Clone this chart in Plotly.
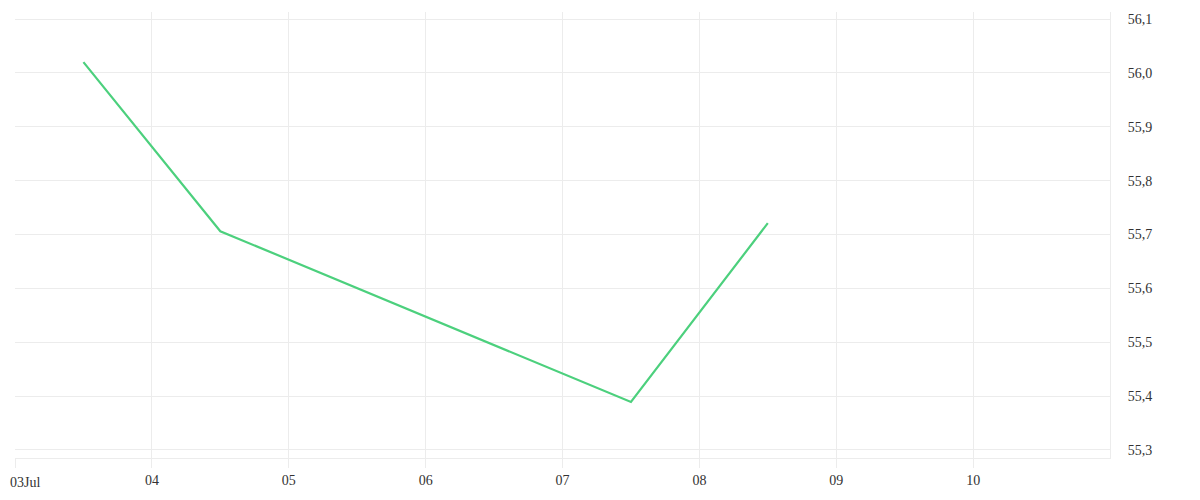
import plotly.graph_objects as go

dates = ["2024-07-03 12:00", "2024-07-04 12:00", "2024-07-07 12:00", "2024-07-08 12:00"]
values = [56.02, 55.706, 55.389, 55.721]
tick_dates = ["2024-07-03", "2024-07-04", "2024-07-05", "2024-07-06",
              "2024-07-07", "2024-07-08", "2024-07-09", "2024-07-10"]
tick_labels = ["03Jul", "04", "05", "06", "07", "08", "09", "10"]
y_ticks = [55.3, 55.4, 55.5, 55.6, 55.7, 55.8, 55.9, 56.0, 56.1]

fig = go.Figure()
fig.add_trace(go.Scatter(x=dates, y=values, mode="lines",
                         line=dict(color="#4cd07d", width=2.2)))

grid = "#ececec"
font = dict(family="Liberation Serif", size=14, color="#333")
fig.update_layout(
    width=1200, height=500,
    margin=dict(l=7, r=98, t=4, b=50, autoexpand=False),
    plot_bgcolor="white", paper_bgcolor="white",
    separators=",.",
    showlegend=False,
    font=font,
    xaxis=dict(range=["2024-07-03", "2024-07-11"], tickvals=tick_dates,
               ticktext=[""] + tick_labels[1:],
               showgrid=True, gridcolor=grid, gridwidth=1, automargin=False,
               ticks="outside", ticklen=9, tickcolor=grid,
               showline=True, linecolor=grid, zeroline=False),
    yaxis=dict(side="right", range=[55.285, 56.113], tickvals=y_ticks, automargin=False,
               tickformat=".1f", showgrid=True, gridcolor=grid,
               showline=True, linecolor=grid, ticks="", ticklabelstandoff=14,
               zeroline=False),
)
# first tick label, left-aligned so it is not clipped at the page edge
fig.add_annotation(text=tick_labels[0], x=tick_dates[0], xref="x", y=0, yref="paper",
                   xanchor="left", yanchor="top", xshift=-6, yshift=-16,
                   showarrow=False, font=font, borderpad=0)
fig.write_html("out.html")
